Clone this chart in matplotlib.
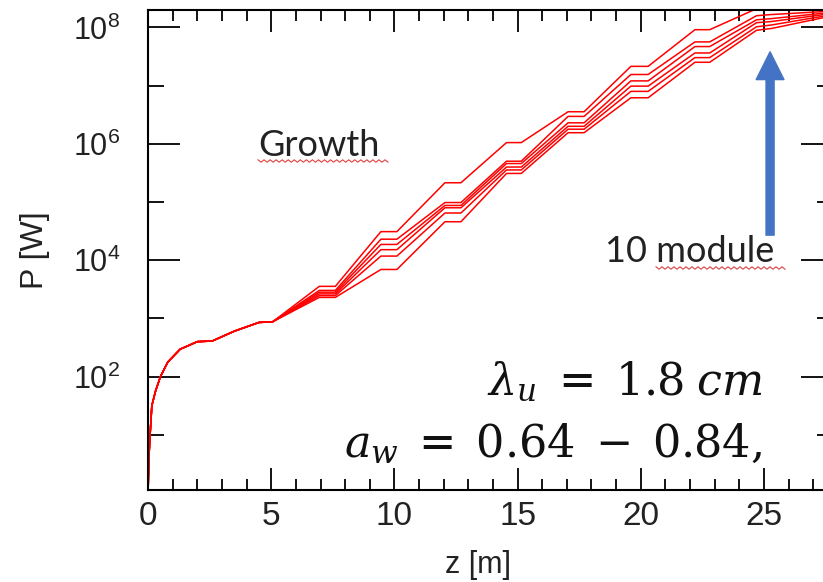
import numpy as np
import matplotlib.pyplot as plt
from matplotlib.patches import FancyArrowPatch

# shared start of all runs (z in m, log10 of P in W)
z_start = [0, 0.03, 0.08, 0.15, 0.3, 0.5, 0.8, 1.3, 2.0, 2.6, 3.5, 4.5, 5.05]
logp_start = [0.05, 0.6, 1.0, 1.5, 1.75, 2.0, 2.25, 2.47, 2.60, 2.61, 2.78, 2.93, 2.94]

# z breakpoints after the runs split (drift sections are the flat parts)
z_split = [5.05, 6.95, 7.6, 9.45, 10.1, 12.05, 12.7, 14.55, 15.15,
           17.05, 17.7, 19.6, 20.3, 22.2, 22.8, 24.7, 25.3, 27.8]

run1 = [2.94, 3.55, 3.55, 4.49, 4.49, 5.33, 5.33, 6.02, 6.02,
        6.55, 6.55, 7.33, 7.33, 7.96, 7.96, 8.32, 8.34, 8.45]
run2 = [2.94, 3.48, 3.48, 4.36, 4.36, 4.99, 4.99, 5.70, 5.70,
        6.47, 6.47, 7.19, 7.19, 7.75, 7.75, 8.20, 8.22, 8.28]
run3 = [2.94, 3.45, 3.45, 4.27, 4.27, 4.94, 4.94, 5.66, 5.66,
        6.36, 6.36, 7.08, 7.08, 7.67, 7.67, 8.13, 8.15, 8.26]
run4 = [2.94, 3.42, 3.42, 4.18, 4.18, 4.90, 4.90, 5.60, 5.60,
        6.30, 6.30, 6.99, 6.99, 7.56, 7.56, 8.08, 8.10, 8.24]
run5 = [2.94, 3.39, 3.39, 4.07, 4.07, 4.81, 4.81, 5.55, 5.55,
        6.25, 6.25, 6.90, 6.90, 7.48, 7.48, 8.01, 8.04, 8.22]
run6 = [2.94, 3.36, 3.36, 3.84, 3.84, 4.66, 4.66, 5.49, 5.49,
        6.19, 6.19, 6.79, 6.79, 7.40, 7.40, 7.95, 7.98, 8.20]
runs = [run1, run2, run3, run4, run5, run6]

plt.rcParams['mathtext.fontset'] = 'dejavuserif'

fig = plt.figure(figsize=(8.23, 5.82), dpi=100)
ax = fig.add_axes([0.18, 0.158, 0.832, 0.825])

for r in runs:
    z = np.concatenate([z_start, z_split[1:]])
    lp = np.concatenate([logp_start, r[1:]])
    ax.plot(z, 10 ** lp, color='#ff0000', lw=1.1)

ax.set_yscale('log')
ax.set_xlim(0, 27.8)
ax.set_ylim(10 ** 0.05, 10 ** 8.30)

ax.set_xticks([0, 5, 10, 15, 20, 25])
ax.set_xticks(np.arange(0, 28, 1), minor=True)
ax.set_yticks([1e2, 1e4, 1e6, 1e8])
ax.set_yticks([1e1, 1e3, 1e5, 1e7], minor=True)
ax.set_yticklabels([], minor=True)
ax.set_yticklabels([r'$\mathregular{10^{2}}$', r'$\mathregular{10^{4}}$',
                    r'$\mathregular{10^{6}}$', r'$\mathregular{10^{8}}$'])

ax.tick_params(axis='x', which='major', direction='in', top=True, length=16, width=1.3,
               labelsize=24, pad=8, labelcolor='#222222')
ax.tick_params(axis='x', which='minor', direction='in', top=True, length=8, width=1.3)
ax.tick_params(axis='y', which='major', direction='in', right=True, length=23, width=1.3,
               labelsize=22, pad=20, labelcolor='#222222')
ax.tick_params(axis='y', which='minor', direction='in', right=True, length=11.5, width=1.3)
for lab in ax.get_xticklabels() + ax.get_yticklabels():
    lab.set_family('Liberation Sans')
for s in ax.spines.values():
    s.set_linewidth(1.5)

fig.text(0.043, 0.57, 'P [W]', rotation=90, ha='center', va='center',
         fontsize=23, family='Liberation Sans', color='#222222')
fig.text(0.581, 0.029, 'z [m]', ha='center', va='center',
         fontsize=22, family='Liberation Sans', color='#222222')

fig.text(258 / 823, 1 - 156 / 582, 'Growth', ha='left', va='baseline',
         fontsize=26, family='Lato', color='#222222')
fig.text(605 / 823, 1 - 262 / 582, '10 module', ha='left', va='baseline',
         fontsize=26, family='Lato', color='#222222')

# red spell-check squiggles under the two words
for x0, x1, yb in [(258, 388, 161), (656, 785, 268)]:
    n = int((x1 - x0) / 3)
    xs = np.linspace(x0, x1, n + 1)
    ys = yb + np.where(np.arange(n + 1) % 2 == 0, -1.2, 1.2)
    fig.add_artist(plt.Line2D(xs / 823, 1 - ys / 582, color='#e04040', lw=0.8))

fig.text(762 / 823, 1 - 395 / 582, r'$\lambda_u\;=\;1.8\;cm$', ha='right', va='baseline',
         fontsize=32, color='#111111')
fig.text(762 / 823, 1 - 457 / 582, r'$a_w\;=\;0.64\;-\;0.84,$', ha='right', va='baseline',
         fontsize=32, color='#111111')

arrow = FancyArrowPatch((25.25, 10 ** 4.43), (25.25, 10 ** 7.58),
                        arrowstyle='simple,head_width=1.0,head_length=1.0,tail_width=0.29',
                        mutation_scale=20, color='#4472c4', shrinkA=0, shrinkB=0)
ax.add_patch(arrow)

fig.savefig('out.png', dpi=100)
